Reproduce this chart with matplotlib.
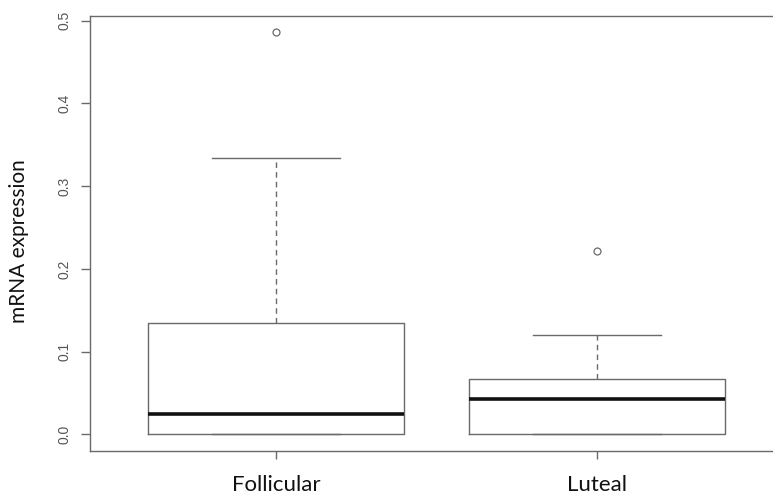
import matplotlib
matplotlib.use('Agg')
import matplotlib.pyplot as plt

# values
groups = ['Follicular', 'Luteal']
q1 = [0.0, 0.0]
medians = [0.0242, 0.0431]
q3 = [0.1347, 0.0669]
whis_lo = [0.0, 0.0]
whis_hi = [0.3345, 0.120]
outliers = [[0.486], [0.2217]]
yticks = [0.0, 0.1, 0.2, 0.3, 0.4, 0.5]

gray = '#6a6a6a'

stats = []
for i in range(len(groups)):
    stats.append(dict(label=groups[i], q1=q1[i], med=medians[i], q3=q3[i],
                      whislo=whis_lo[i], whishi=whis_hi[i], fliers=outliers[i]))

fig = plt.figure(figsize=(7.73, 5.01), dpi=100)
# right edge of the frame sits just past the picture, as in the reference
ax = fig.add_axes([90 / 773, 50 / 501, 693 / 773, 435 / 501])

ax.bxp(stats, positions=[1, 2], widths=0.8, showfliers=True,
       boxprops=dict(color=gray, linewidth=1),
       medianprops=dict(color='#111111', linewidth=2.6, solid_capstyle='butt'),
       whiskerprops=dict(color=gray, linewidth=1, linestyle=(0, (4, 3))),
       capprops=dict(color=gray, linewidth=1),
       capwidths=0.4,
       flierprops=dict(marker='o', markersize=5, markerfacecolor='none',
                       markeredgecolor=gray, markeredgewidth=0.9))

ax.set_xlim(0.42, 2.58)
ax.set_ylim(-0.0202, 0.5058)

for s in ax.spines.values():
    s.set_color(gray)
    s.set_linewidth(1)

ax.set_yticks(yticks)
ax.set_yticklabels([f'{v:.1f}' for v in yticks], rotation=90, va='center',
                   family='Liberation Sans', fontsize=10, color='#555555')
ax.tick_params(axis='y', length=6.5, width=1, color=gray, pad=7)

ax.set_xticks([1, 2])
ax.set_xticklabels(groups, family='Lato', fontsize=16, color='#111111')
ax.tick_params(axis='x', length=5.8, width=1, color=gray, pad=11.5)

fig.text(19 / 773, 1 - 241 / 501, 'mRNA expression', rotation=90,
         ha='center', va='center', family='Lato', fontsize=15, color='#111111')

fig.savefig('out.png', dpi=100)
